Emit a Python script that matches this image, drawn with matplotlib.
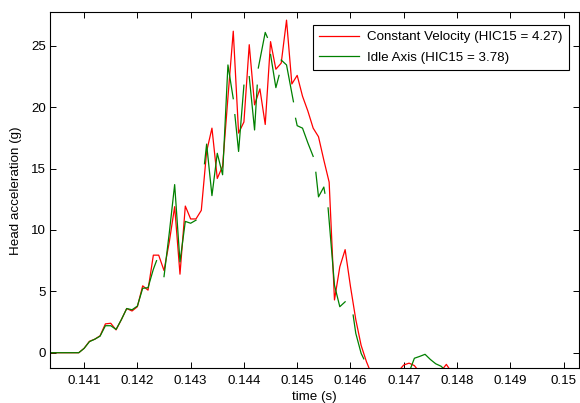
import numpy as np
import matplotlib
matplotlib.use('Agg')
import matplotlib.pyplot as plt

nan = float('nan')

# ---- data ----
# Constant Velocity: uniformly sampled every 0.0001 s starting at 0.1403 s
t_start = 0.1403
dt = 0.0001
red_vals = [0, 0, 0, 0, 0, 0, 0,                                      # 0.1403 - 0.1409
            0.36, 0.93, 1.1, 1.38, 2.35, 2.4, 1.86, 2.7, 3.6, 3.4,      # 0.1410 - 0.1419
            3.75, 5.45, 5.1, 7.95, 7.95, 6.7, 9.05, 11.9, 6.4, 11.95,   # 0.1420 - 0.1429
            10.9, 10.9, 11.6, 16.4, 18.3, 14.2, 15.2, 20.8, 26.2, 17.9, # 0.1430 - 0.1439
            18.8, 25.1, 20.2, 21.5, 18.6, 25.35, 23.1, 23.6, 27.1, 21.9,  # 0.1440 - 0.1449
            22.6, 20.9, 19.7, 18.3, 17.6, 15.7, 13.9, 4.3, 7.0, 8.4,    # 0.1450 - 0.1459
            5.4, 2.7, 0.6, -0.73, -1.8, -2.4, -2.6, -2.4, -2.0, -1.5,   # 0.1460 - 0.1469
            -1.0, -0.85, -1.05, -1.6, -2.0, -2.1, -1.9, -1.5, -0.95, -1.6,  # 0.1470 - 0.1479
            -2.2, -2.5, -2.6, -2.5, -2.4, -2.4]                         # 0.1480 - 0.1485

# Idle Axis: trace with interruptions (nan = break in the line)
green_t = [0.1403, 0.1404, 0.1405, 0.1406, 0.1407, 0.1408, 0.1409,
           0.1410, 0.1411, 0.1412, 0.1413, 0.1414, 0.1415, 0.1416, 0.1417, 0.1418, 0.1419,
           0.1420, 0.1421, 0.1422, 0.1423, 0.14236, 0.14240,
           0.1425, 0.1426, 0.1427, 0.1428, 0.1429, 0.1430, 0.1431, 0.14315,
           0.14326, 0.1433, 0.1434, 0.1435, 0.1436, 0.1437, 0.1438, 0.14381,
           0.14383, 0.1439, 0.1440, 0.14405,
           0.1441, 0.1442, 0.14425, 0.14426,
           0.14427, 0.1444, 0.14444, 0.14447,
           0.1445, 0.1446, 0.14466, 0.14468,
           0.1447, 0.1448, 0.14493, 0.14495,
           0.14497, 0.1450, 0.1451, 0.1452, 0.1453, 0.14532,
           0.14535, 0.1454, 0.1455, 0.14552, 0.14555,
           0.14558, 0.1457, 0.1458, 0.1459, 0.14595,
           0.14605, 0.1461, 0.1462, 0.14625, 0.14627,
           0.1464, 0.1465, 0.1466, 0.1467, 0.1468, 0.1469,
           0.1470, 0.1471, 0.1472, 0.1473, 0.1474, 0.1475, 0.1476, 0.1477, 0.1478, 0.1479,
           0.1480, 0.1481, 0.1482, 0.1483, 0.1484, 0.1485]
green_v = [0, 0, 0, 0, 0, 0, 0,
           0.35, 0.9, 1.1, 1.35, 2.2, 2.2, 1.9, 2.7, 3.6, 3.5,
           3.8, 5.25, 5.3, 6.8, 7.5, nan,
           6.2, 9.8, 13.7, 7.4, 10.7, 10.55, 10.8, nan,
           15.4, 17.0, 12.8, 16.25, 14.5, 23.45, 20.7, nan,
           19.4, 16.4, 21.8, nan,
           22.5, 18.15, 21.8, nan,
           23.2, 26.1, 25.7, nan,
           24.3, 21.6, 22.6, nan,
           23.85, 23.45, 20.45, nan,
           19.1, 18.5, 18.3, 17.1, 16.0, nan,
           14.7, 12.7, 13.5, 13.0, nan,
           11.8, 5.5, 3.75, 4.15, nan,
           3.07, 1.58, -0.05, -0.5, nan,
           -2.2, -2.3, -2.3, -2.2, -2.1, -2.1,
           -2.0, -1.6, -0.45, -0.3, -0.13, -0.55, -0.9, -1.1, -1.5, -2.0,
           -2.3, -2.4, -2.5, -2.5, -2.5, -2.5]

red_label = 'Constant Velocity (HIC15 = 4.27)'
green_label = 'Idle Axis (HIC15 = 3.78)'

xticks = [0.141, 0.142, 0.143, 0.144, 0.145, 0.146, 0.147, 0.148, 0.149, 0.150]
xticklabels = ['0.141', '0.142', '0.143', '0.144', '0.145', '0.146',
               '0.147', '0.148', '0.149', '0.15']
yticks = [0, 5, 10, 15, 20, 25]

# ---- plotting ----
plt.rcParams['font.family'] = ['Liberation Sans', 'DejaVu Sans']
fs = 9.6

fig = plt.figure(figsize=(5.8, 4.03), dpi=100)
W, H = 580.0, 403.0
ax = fig.add_axes([50 / W, 1 - 368.3 / H, (579 - 50) / W, (368.3 - 12.3) / H])

t_red = t_start + dt * np.arange(len(red_vals))

ax.plot(t_red, red_vals, color=(1, 0, 0), lw=0.9, label=red_label)
ax.plot(green_t, green_v, color=(0, 0.5, 0), lw=0.9, label=green_label)

ax.set_xlim(0.14036, 0.15029)
ax.set_ylim(-1.27, 27.74)
ax.set_xticks(xticks)
ax.set_xticklabels(xticklabels)
ax.set_yticks(yticks)
ax.tick_params(direction='in', top=True, right=True, length=4, width=0.7,
               labelsize=fs, colors='black')
ax.tick_params(axis='x', pad=5)
ax.tick_params(axis='y', pad=3)
for s in ax.spines.values():
    s.set_linewidth(0.8)
    s.set_color('black')

ax.set_xlabel('time (s)', fontsize=fs, labelpad=3)
ax.set_ylabel('Head acceleration (g)', fontsize=fs, labelpad=6)

leg = ax.legend(loc='upper right', bbox_to_anchor=(0.981, 0.964),
                borderaxespad=0, fancybox=False, framealpha=1,
                edgecolor='black', fontsize=fs, handlelength=3.0,
                handletextpad=0.6, borderpad=0.45, labelspacing=0.6)
leg.get_frame().set_linewidth(0.8)

fig.savefig('out.png', dpi=100, facecolor='white')
